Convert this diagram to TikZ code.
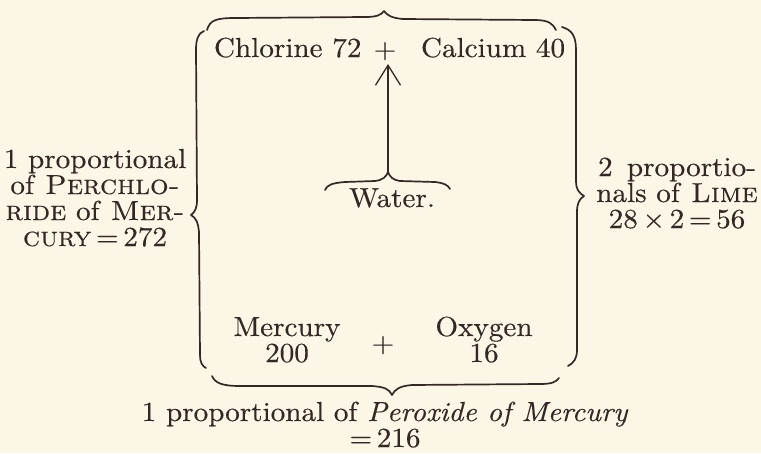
\documentclass[tikz,border=0pt]{standalone}
\usepackage{fontspec}
\setmainfont{lmroman10-regular.otf}[FakeBold=0.35,FakeStretch=1.06,ItalicFont=lmroman10-italic.otf,SmallCapsFont=lmromancaps10-regular.otf]
\usetikzlibrary{arrows.meta}
\definecolor{paper}{RGB}{252,246,231}
\definecolor{ink}{RGB}{52,40,36}
\begin{document}
\begin{tikzpicture}[x=1pt,y=-1pt,
  txt/.style={inner sep=0pt,outer sep=0pt,text=ink,font=\fontsize{27.5}{26}\selectfont,align=center},
  bracestroke/.style={draw=ink,line width=1.7pt,line cap=round,line join=round}]
\fill[paper] (0,0) rectangle (761,453);
\useasboundingbox (0,0) rectangle (761,453);
% top line
\node[txt,anchor=base west] (chl) at (214,57) {Chlorine 72};
\node[txt,anchor=base] (plusT) at (385,58) {+};
\node[txt,anchor=base west] (cal) at (421,57) {Calcium 40};
% water
\node[txt,anchor=base] (water) at (392,207) {Water.};
\coordinate (wtip) at (388,172);
% bottom row (base = last line)
\node[txt,anchor=base] (merc) at (287,362) {Mercury\\200};
\node[txt,anchor=base] (plusB) at (383,352) {+};
\node[txt,anchor=base] (oxy) at (484,362) {Oxygen\\16};
% side texts (base = last line)
\node[txt,anchor=base] (left) at (95,246) {1 proportional\\of \textsc{Perchlo-}\\\textsc{ride} of \textsc{Mer-}\\\textsc{cury}\,=\,272};
\node[txt,anchor=base] (right) at (677,228) {2\, proportio-\\nals of \textsc{Lime}\\28\,×\,2\,=\,56};
\node[txt,anchor=base] (bottom) at (385,447) {1 proportional of \textit{Peroxide of Mercury}\\=\,216};
% braces
\draw[bracestroke] (207,30) .. controls (210,20) and (216,18) .. (236,18) -- (365,17) .. controls (377,17) and (381,15) .. (384,11) .. controls (387,15) and (391,18) .. (403,19) -- (535,20) .. controls (549,20) and (553,24) .. (556,30);
\draw[bracestroke] (204,31) .. controls (198,33) and (196,40) .. (196,50) -- (197,200) .. controls (197,208) and (195,212) .. (191,215) .. controls (196,218) and (198,222) .. (199,232) -- (200,355) .. controls (200,362) and (202,366) .. (206,368);
\draw[bracestroke] (562,27) .. controls (572,30) and (576,36) .. (576,50) -- (576,182) .. controls (576,189) and (579,193) .. (584,196) .. controls (579,199) and (577,204) .. (577,212) -- (577,350) .. controls (577,358) and (574,363) .. (568,366);
\draw[bracestroke] (212,376) .. controls (215,383) and (222,386) .. (240,386) -- (372,386) .. controls (385,387) and (389,389) .. (392,395) .. controls (395,389) and (400,386) .. (412,385) -- (540,384) .. controls (552,384) and (556,382) .. (559,378);
\draw[bracestroke] (325,190) .. controls (327,185) and (332,183) .. (345,182) -- (375,181) .. controls (383,180) and (386,177) .. (388,172) .. controls (390,177) and (393,180) .. (400,181) -- (435,182) .. controls (444,183) and (448,185) .. (450,189);
% arrow
\draw[draw=ink,line width=1.7pt,-{Straight Barb[length=20pt,width=25pt,line width=1.3pt]}] (wtip) -- (wtip |- 0,64);
\end{tikzpicture}
\end{document}
